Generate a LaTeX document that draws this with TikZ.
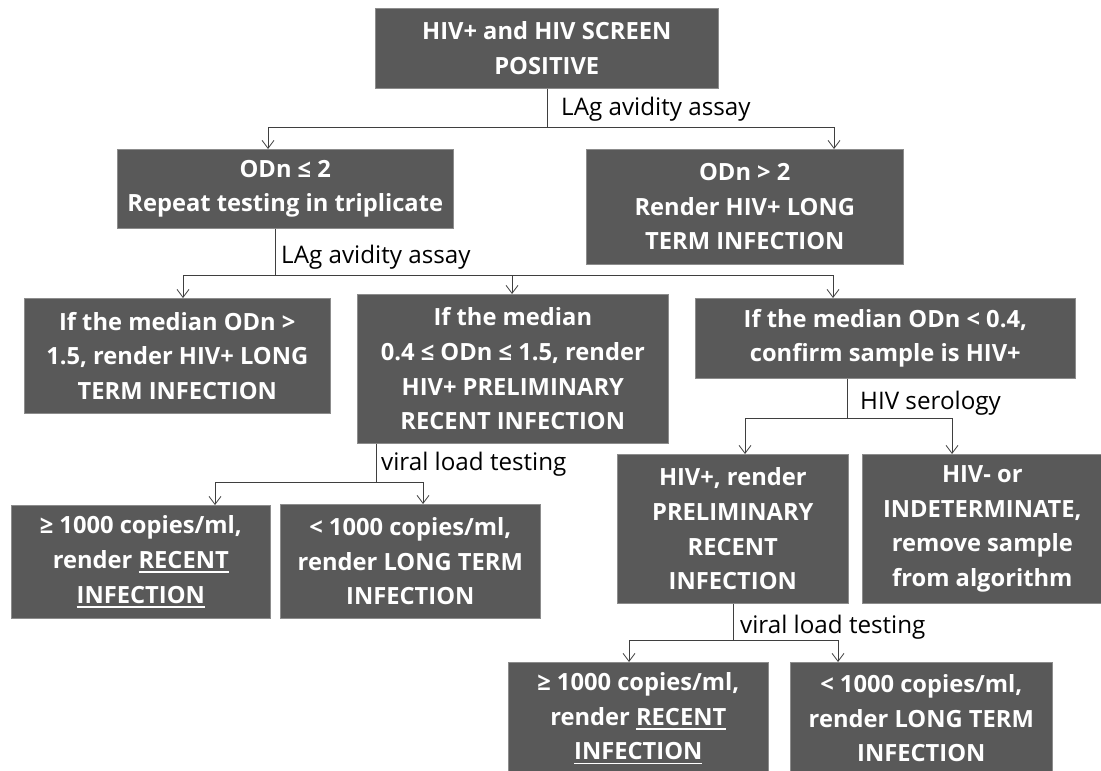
\documentclass[tikz,border=0pt]{standalone}
\usepackage{fontspec}
\setmainfont{Open Sans}
\usetikzlibrary{arrows.meta}
\definecolor{boxgray}{HTML}{595959}
\definecolor{boxedge}{HTML}{8C8C8C}
\definecolor{linegray}{HTML}{3F3F3F}
\newcommand\bxfont{\fontsize{23.7}{34.7}\selectfont\bfseries}
\newcommand\lbfont{\fontsize{24.2}{28}\selectfont}
% white underline sitting a little below the baseline
\newcommand\ulw[1]{\setbox0\hbox{#1}\rlap{\rule[-4.5pt]{\wd0}{1.7pt}}\box0}
\begin{document}
\begin{tikzpicture}[x=1pt,y=-1pt,
  box/.style={draw=boxedge, line width=0.6pt, fill=boxgray, text=white,
    inner sep=0pt, align=center, anchor=north west, font=\bxfont},
  link/.style={draw=linegray, line width=0.9pt},
  arr/.style={link, -{Straight Barb[length=8pt,width=12pt,line width=0.8pt]}},
  lbl/.style={anchor=base west, inner sep=0pt, text=black, font=\lbfont}]
\useasboundingbox[fill=white] (0,0) rectangle (1101,771);

% ---- boxes ----
\node[box, minimum width=343pt, minimum height=80pt] (A) at (375,8)
  {HIV+ and HIV SCREEN\\POSITIVE};
\node[box, minimum width=336pt, minimum height=79pt] (B) at (117,149)
  {ODn ≤ 2\\Repeat testing in triplicate};
\node[box, minimum width=317pt, minimum height=115pt] (C) at (586,149)
  {ODn > 2\\Render HIV+ LONG\\TERM INFECTION};
\node[box, minimum width=306pt, minimum height=115pt] (D) at (24,298)
  {If the median ODn >\\1.5, render HIV+ LONG\\TERM INFECTION};
\node[box, minimum width=311pt, minimum height=149pt] (E) at (357,294)
  {If the median\\0.4 ≤ ODn ≤ 1.5, render\\HIV+ PRELIMINARY\\RECENT INFECTION};
\node[box, minimum width=380pt, minimum height=80pt] (F) at (695,298)
  {If the median ODn < 0.4,\\confirm sample is HIV+};
\node[box, minimum width=231pt, minimum height=149pt] (G) at (617,454)
  {HIV+, render\\PRELIMINARY\\RECENT\\INFECTION};
\node[box, minimum width=240pt, minimum height=149pt] (H) at (862,454)
  {HIV- or\\INDETERMINATE,\\remove sample\\from algorithm};
\node[box, minimum width=259pt, minimum height=113pt] (I) at (11,505)
  {≥ 1000 copies/ml,\\render \ulw{RECENT}\\\ulw{INFECTION}};
\node[box, minimum width=260pt, minimum height=114pt] (J) at (280,504)
  {< 1000 copies/ml,\\render LONG TERM\\INFECTION};
\node[box, minimum width=260pt, minimum height=112pt] (K) at (508,662)
  {≥ 1000 copies/ml,\\render \ulw{RECENT}\\\ulw{INFECTION}};
\node[box, minimum width=262pt, minimum height=112pt] (L) at (790,662)
  {< 1000 copies/ml,\\render LONG TERM\\INFECTION};

% ---- branch points and arrow targets ----
\coordinate (jA) at (547,127);
\coordinate (xAB) at (268,0);
\coordinate (xAC) at (834,0);
\coordinate (jB) at (275,275);
\coordinate (xBD) at (183,0);
\coordinate (xBE) at (512,0);
\coordinate (xBF) at (833,0);
\coordinate (jF) at (847,418);
\coordinate (xFG) at (745,0);
\coordinate (xFH) at (952,0);
\coordinate (jE) at (376,482);
\coordinate (xEI) at (215,0);
\coordinate (xEJ) at (423,0);
\coordinate (jG) at (733,640);
\coordinate (xGK) at (629,0);
\coordinate (xGL) at (838,0);

% ---- connectors ----
\draw[link] (A.south -| jA) -- (jA);
\draw[arr] (jA) -| (B.north -| xAB);
\draw[arr] (jA) -| (C.north -| xAC);

\draw[link] (B.south -| jB) -- (jB);
\draw[arr] (jB) -| (D.north -| xBD);
\draw[arr] (jB) -| (E.north -| xBE);
\draw[arr] (jB) -| (F.north -| xBF);

\draw[link] (F.south -| jF) -- (jF);
\draw[arr] (jF) -| (G.north -| xFG);
\draw[arr] (jF) -| (H.north -| xFH);

\draw[link] (E.south -| jE) -- (jE);
\draw[arr] (jE) -| (I.north -| xEI);
\draw[arr] (jE) -| (J.north -| xEJ);

\draw[link] (G.south -| jG) -- (jG);
\draw[arr] (jG) -| (K.north -| xGK);
\draw[arr] (jG) -| (L.north -| xGL);

% ---- connector labels ----
\node[lbl] (l1) at (561,115) {LAg avidity assay};
\node[lbl] (l2) at (281,263) {LAg avidity assay};
\node[lbl] (l3) at (860,409) {HIV serology};
\node[lbl] (l4) at (381,470) {viral load testing};
\node[lbl] (l5) at (740,633) {viral load testing};
\end{tikzpicture}
\end{document}
